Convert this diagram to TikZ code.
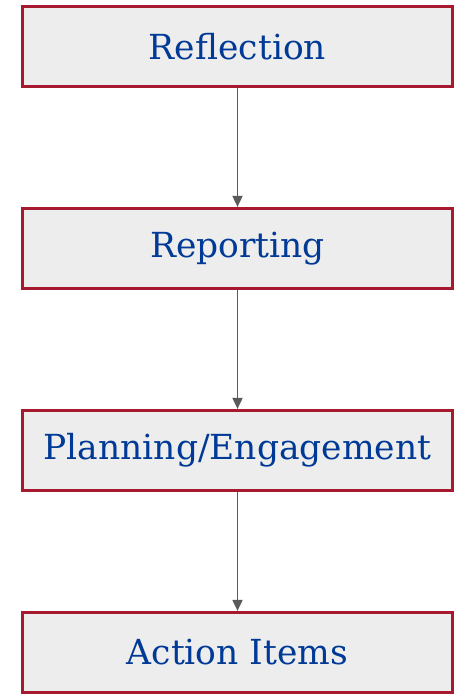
\documentclass[tikz,border=0pt]{standalone}
\usepackage{fontspec}
\setmainfont{DejaVu Serif}
\usepackage{tikz}
\usetikzlibrary{arrows.meta,positioning}

\definecolor{boxred}{HTML}{A6192E}
\definecolor{boxgray}{HTML}{EDEDED}
\definecolor{textblue}{HTML}{003A96}
\definecolor{arrowgray}{HTML}{5A5A5A}

\begin{document}
\begin{tikzpicture}[x=1pt,y=1pt,
	stage/.style={rectangle,draw=boxred,fill=boxgray,line width=3.2pt,
		minimum width=430pt,minimum height=80pt,inner sep=0pt,
		text=textblue,font=\fontsize{34.5}{40}\selectfont},
	flow/.style={draw=arrowgray,line width=1.8pt,-{Triangle[length=11pt,width=10pt]}}]
	\useasboundingbox (0,0) rectangle (458,-695);
	\path   (237.5,-46.5)  node (refl) [stage] {Reflection}
	        (237.5,-248.5) node (rep)  [stage] {Reporting}
	        (237.5,-450.5) node (plan) [stage] {Planning/Engagement}
	        (237.5,-652.5) node (act)  [stage] {Action Items};
	\draw [flow] (refl) -- (rep);
	\draw [flow] (rep) -- (plan);
	\draw [flow] (plan) -- (act);
\end{tikzpicture}
\end{document}
